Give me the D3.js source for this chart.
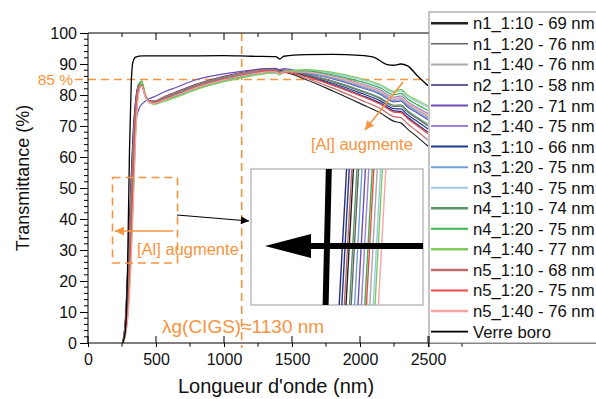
<!DOCTYPE html>
<html><head><meta charset="utf-8">
<script src="https://cdn.jsdelivr.net/npm/d3@7"></script>
<style>body{margin:0;background:#fff}svg{display:block;font-family:"Liberation Sans",Arial,sans-serif}</style>
</head><body><svg id="c" width="596" height="399"></svg>
<script>
// ---------- DATA ----------
const wavelengths = [255,275,295,315,335,355,375,395,420,450,490,550,650,800,1000,1200,1300,1380,1410,1440,1600,1800,2000,2150,2250,2300,2350,2420,2500];
const n1_10 = [0,6,22.8,45.8,66,78.5,83,83,79.8,77.9,77.6,78.6,80.3,82.8,85.3,87,87.6,87.6,87,87.3,85,81.3,77.3,74.2,71.5,71,69,66.5,63.5];
const n1_20 = [0,5,19.3,42.3,63,77.5,82.5,83,79.8,77.8,77.6,78.5,80.2,82.7,85.2,87,87.7,87.7,87.1,87.6,86.6,84.3,81.3,78.8,76.3,76.4,74.5,72.4,70];
const n1_40 = [0,3,11.5,29.7,52.7,73.5,81.5,83,79.6,77.6,77.4,78.2,79.7,82.2,84.7,86.5,87.2,87.2,86.6,87.3,87.3,85.6,83.2,80.9,78.6,78.8,77,75.1,73];
const n2_10 = [0,8,27.4,50.4,70,80,83.5,83.3,80,78,78,79.2,81,83.5,86,87.7,88.3,88.3,87.7,88,86.1,83.4,80.1,77.4,74.9,74.7,72.8,70.6,68];
const n2_20 = [0,4,15,37.7,60.7,72,75.5,77,78,78.8,79.5,80.8,82.5,85,86.8,88,88.5,88.6,88.2,88.5,87,85.2,82.5,80.2,77.8,78,76.1,74.2,72];
const n2_40 = [0,3.8,14,35.4,58.4,75.5,82,83,79.8,77.7,77.4,78.4,80,82.5,85,86.8,87.5,87.5,86.9,87.5,87.5,86.1,83.8,81.6,79.3,79.7,77.8,76,74];
const n3_10 = [0,7,25.6,48.6,68.5,79.5,83.3,83.2,80,78,77.9,79,80.8,83.3,85.8,87.6,88.2,88.2,87.6,87.8,86.3,83.8,80.7,78.1,75.6,75.5,73.6,71.5,69];
const n3_20 = [0,4.5,17,40,63,77,82.5,83,79.9,77.9,77.6,78.6,80.3,82.8,85.3,87.1,87.8,87.8,87.2,87.8,87.2,85.4,82.8,80.5,78.2,78.4,76.6,74.6,72.5];
const n3_40 = [0,2.8,10.5,27.4,50.4,72.5,81.5,83,79.6,77.5,77.2,78,79.5,82,84.5,86.3,87,87.2,86.6,87.5,88,87,85,83,80.8,81.3,79.5,77.8,76];
const n4_10 = [0,5.5,20.4,43.4,64,78,83.5,84.2,80.3,78,77.8,78.9,80.7,83.2,85.7,87.5,88.1,88.1,87.5,87.8,86.7,84.5,81.6,79.1,76.7,76.8,74.9,72.8,70.5];
const n4_20 = [0,3.5,13,33.1,56.1,75,83.5,84.6,80.3,77.8,77.2,78.1,79.8,82.3,84.8,86.6,87.3,87.5,86.9,87.6,87.8,86.5,84.4,82.3,80.1,80.5,78.7,76.9,75];
const n4_40 = [0,2.6,10,26.2,49.2,72,82,84,80,77.6,77,77.8,79.3,81.8,84.3,86.1,86.8,87.1,86.5,87.6,88.2,87.3,85.4,83.4,81.2,81.8,80,78.3,76.5];
const n5_10 = [0,6.5,23.9,46.9,67,79,83,83,79.9,78,77.9,79.1,80.9,83.4,85.9,87.6,88.1,88,87.4,87.6,85.5,82.2,78.5,75.6,73,72.7,70.7,68.3,65.5];
const n5_20 = [0,3.3,12.5,32,55,74.5,82,83.2,79.9,77.8,77.5,78.4,80.1,82.6,85.1,86.9,87.6,87.6,87,87.4,86,83.1,79.8,77,74.5,74.3,72.4,70.1,67.5];
const n5_40 = [0,2.5,9,23.9,46.9,71,81,83,79.7,77.7,77.3,78.2,79.9,82.4,84.9,86.7,87.4,87.5,86.9,87.5,87.4,85.9,83.5,81.2,78.9,79.2,77.4,75.5,73.5];
const glassWavelengths = [255,275,290,305,318,330,350,400,600,1000,1200,1380,1410,1440,1600,1800,2000,2100,2200,2250,2300,2350,2420,2500];
const glassValues = [0,4,22,62,84,90.5,92.2,92.6,92.6,92.7,92.5,92.4,91.6,92.5,93,93.1,92.8,92.2,89.8,89.6,90,89.4,86.3,83];

const seriesLabels = ["n1_1:10 - 69 nm","n1_1:20 - 76 nm","n1_1:40 - 76 nm","n2_1:10 - 58 nm","n2_1:20 - 71 nm","n2_1:40 - 75 nm","n3_1:10 - 66 nm","n3_1:20 - 75 nm","n3_1:40 - 75 nm","n4_1:10 - 74 nm","n4_1:20 - 75 nm","n4_1:40 - 77 nm","n5_1:10 - 68 nm","n5_1:20 - 75 nm","n5_1:40 - 76 nm"];
const seriesValues = [n1_10,n1_20,n1_40,n2_10,n2_20,n2_40,n3_10,n3_20,n3_40,n4_10,n4_20,n4_40,n5_10,n5_20,n5_40];
const glassLabel = "Verre boro";
const seriesColors = ["#222222","#666666","#aaaaaa","#2c2a7c","#6a4fb5","#9b82d2","#1f3a8c","#6f9fd8","#9fc8f0","#5a9467","#3cb54a","#7fcc5c","#c26a6a","#f04848","#f5a5a5"];
const legendWidths = [2.5,1.5,2,1.5,2,2,2,2,2,2.5,2,2.5,2.5,2,2.5];
const xTicks = [0,500,1000,1500,2000,2500];
const xMinorTicks = [250,750,1250,1750,2250,2750];
const yTicks = [0,10,20,30,40,50,60,70,80,90,100];
const yMinorTicks = d3.range(0,101,2).filter(v => v % 10 !== 0);
const gapWavelength = 1130;
const thresholdT = 85;

// ---------- DRAW ----------
const svg = d3.select("#c");
const orange = "#f7943f";
const x = d3.scaleLinear().domain([0,2500]).range([88,428]);
const y = d3.scaleLinear().domain([0,100]).range([343,33]);

const defs = svg.append("defs");
defs.append("clipPath").attr("id","plotClip").append("rect")
  .attr("x",88).attr("y",33).attr("width",340).attr("height",310);
defs.append("clipPath").attr("id","insetClip").append("rect")
  .attr("x",251).attr("y",169).attr("width",172).attr("height",136);
function marker(id,color,w,h){
  defs.append("marker").attr("id",id).attr("viewBox","0 0 10 10")
    .attr("refX",10).attr("refY",5).attr("markerUnits","userSpaceOnUse")
    .attr("markerWidth",w).attr("markerHeight",h).attr("orient","auto")
    .append("path").attr("d","M0,0 L10,5 L0,10 Z").attr("fill",color);
}
marker("arrO",orange,11,9);
marker("arrK","#000",10,8);

// threshold & gap lines (under curves)
svg.append("line").attr("x1",75).attr("x2",596).attr("y1",y(thresholdT)).attr("y2",y(thresholdT))
  .attr("stroke",orange).attr("stroke-width",1.6).attr("stroke-dasharray","8,5");
svg.append("line").attr("x1",x(gapWavelength)).attr("x2",x(gapWavelength)).attr("y1",33).attr("y2",348)
  .attr("stroke",orange).attr("stroke-width",1.6).attr("stroke-dasharray","8,5");

// curves
const line = d3.line().x((d,i)=>x(wavelengths[i])).y(d=>y(d)).curve(d3.curveMonotoneX);
const gPlot = svg.append("g").attr("clip-path","url(#plotClip)");
seriesValues.forEach((vals,k)=>{
  gPlot.append("path").attr("d",line(vals)).attr("fill","none")
    .attr("stroke",seriesColors[k]).attr("stroke-width",1.2);
});
const glassLine = d3.line().x((d,i)=>x(glassWavelengths[i])).y(d=>y(d)).curve(d3.curveMonotoneX);
gPlot.append("path").attr("d",glassLine(glassValues)).attr("fill","none").attr("stroke","#000").attr("stroke-width",1.3);

// axes frame
svg.append("line").attr("x1",88).attr("x2",88).attr("y1",33).attr("y2",343).attr("stroke","#000");
svg.append("line").attr("x1",88).attr("x2",429).attr("y1",33).attr("y2",33).attr("stroke","#000");
svg.append("line").attr("x1",88).attr("x2",596).attr("y1",343).attr("y2",343).attr("stroke","#000");

const xAxis = svg.append("g").attr("transform","translate(0,343)")
  .call(d3.axisBottom(x).tickValues(xTicks).tickSize(4).tickPadding(6.6).tickFormat(d3.format("d")));
xAxis.select(".domain").remove();
xAxis.selectAll("text").attr("font-size",16).attr("fill","#111").attr("font-family","Liberation Sans, Arial, sans-serif");
xAxis.selectAll("line").attr("stroke","#000");
svg.selectAll(".xin").data(xTicks).join("line").attr("x1",d=>x(d)).attr("x2",d=>x(d))
  .attr("y1",343).attr("y2",336).attr("stroke","#000");
svg.selectAll(".xmin").data(xMinorTicks).join("line").attr("x1",d=>x(d)).attr("x2",d=>x(d))
  .attr("y1",343).attr("y2",346.5).attr("stroke","#000");
svg.selectAll(".xtop").data(xTicks.concat(xMinorTicks).filter(d=>d<2500 && d>0)).join("line")
  .attr("x1",d=>x(d)).attr("x2",d=>x(d)).attr("y1",33).attr("y2",d=>d%500===0?40:37).attr("stroke","#000");

const yAxis = svg.append("g").attr("transform","translate(88,0)")
  .call(d3.axisLeft(y).tickValues(yTicks).tickSize(8).tickPadding(3));
yAxis.select(".domain").remove();
yAxis.selectAll("text").attr("font-size",16).attr("fill","#111").attr("font-family","Liberation Sans, Arial, sans-serif");
svg.selectAll(".ymin").data(yMinorTicks).join("line").attr("x1",84).attr("x2",88)
  .attr("y1",d=>y(d)).attr("y2",d=>y(d)).attr("stroke","#000");

// axis titles
svg.append("text").attr("x",276).attr("y",393).attr("text-anchor","middle").attr("font-size",20)
  .attr("fill","#111").text("Longueur d'onde (nm)");
svg.append("text").attr("transform","translate(29,178) rotate(-90)").attr("text-anchor","middle")
  .attr("font-size",18).attr("fill","#111").text("Transmittance (%)");

// orange annotations
svg.append("text").attr("x",73).attr("y",85).attr("text-anchor","end").attr("font-size",15.5)
  .attr("fill",orange).text("85 %");
svg.append("text").attr("x",162).attr("y",333).attr("font-size",19).attr("fill",orange).text("λg(CIGS)≈1130 nm");
svg.append("text").attr("x",311).attr("y",150).attr("font-size",16.5).attr("fill",orange).text("[Al] augmente");
svg.append("text").attr("x",137).attr("y",255).attr("font-size",16.5).attr("fill",orange).text("[Al] augmente");
svg.append("line").attr("x1",403).attr("y1",82).attr("x2",365).attr("y2",130)
  .attr("stroke",orange).attr("stroke-width",1.6).attr("marker-end","url(#arrO)");
svg.append("line").attr("x1",173).attr("y1",231).attr("x2",115).attr("y2",231)
  .attr("stroke",orange).attr("stroke-width",1.6).attr("marker-end","url(#arrO)");
svg.append("rect").attr("x",112.5).attr("y",177.5).attr("width",65).attr("height",85.5)
  .attr("fill","none").attr("stroke",orange).attr("stroke-width",1.6).attr("stroke-dasharray","8,5");
svg.append("line").attr("x1",177).attr("y1",215).attr("x2",249).attr("y2",221)
  .attr("stroke","#000").attr("stroke-width",1.2).attr("marker-end","url(#arrK)");

// inset (zoom of the absorption edge)
const xi = d3.scaleLinear().domain([252,353]).range([251,423]);
const yi = d3.scaleLinear().domain([37.5,42.5]).range([305,169]);
svg.append("rect").attr("x",251).attr("y",169).attr("width",172).attr("height",136)
  .attr("fill","#fff").attr("stroke","#999").attr("stroke-width",1);
const gIn = svg.append("g").attr("clip-path","url(#insetClip)");
const lineI = d3.line().x((d,i)=>xi(wavelengths[i])).y(d=>yi(d));
seriesValues.forEach((vals,k)=>{
  gIn.append("path").attr("d",lineI(vals)).attr("fill","none")
    .attr("stroke",seriesColors[k]).attr("stroke-width",1.4);
});
const glassLineI = d3.line().x((d,i)=>xi(glassWavelengths[i])).y(d=>yi(d));
gIn.append("path").attr("d",glassLineI(glassValues)).attr("fill","none").attr("stroke","#000").attr("stroke-width",6);
gIn.append("line").attr("x1",423).attr("x2",305).attr("y1",246).attr("y2",246).attr("stroke","#000").attr("stroke-width",6);
gIn.append("path").attr("d","M265,246 L311,234 L311,258 Z").attr("fill","#000");

// legend
const lg = svg.append("g");
lg.append("rect").attr("x",429).attr("y",12).attr("width",180).attr("height",331)
  .attr("fill","#fff").attr("stroke","#888").attr("stroke-width",1);
const legendLabels = seriesLabels.concat([glassLabel]);
const legendColors = seriesColors.concat(["#000"]);
const legendW = legendWidths.concat([1.8]);
legendLabels.forEach((lab,i)=>{
  const yy = 23.3 + i*20.55;
  lg.append("line").attr("x1",431).attr("x2",468).attr("y1",yy).attr("y2",yy)
    .attr("stroke",legendColors[i]).attr("stroke-width",legendW[i]);
  lg.append("text").attr("x",473).attr("y",yy).attr("dy","0.36em").attr("font-size",16.7)
    .attr("fill","#111").text(lab);
});
svg.append("line").attr("x1",429).attr("x2",429).attr("y1",336).attr("y2",347).attr("stroke","#000");
</script></body></html>
